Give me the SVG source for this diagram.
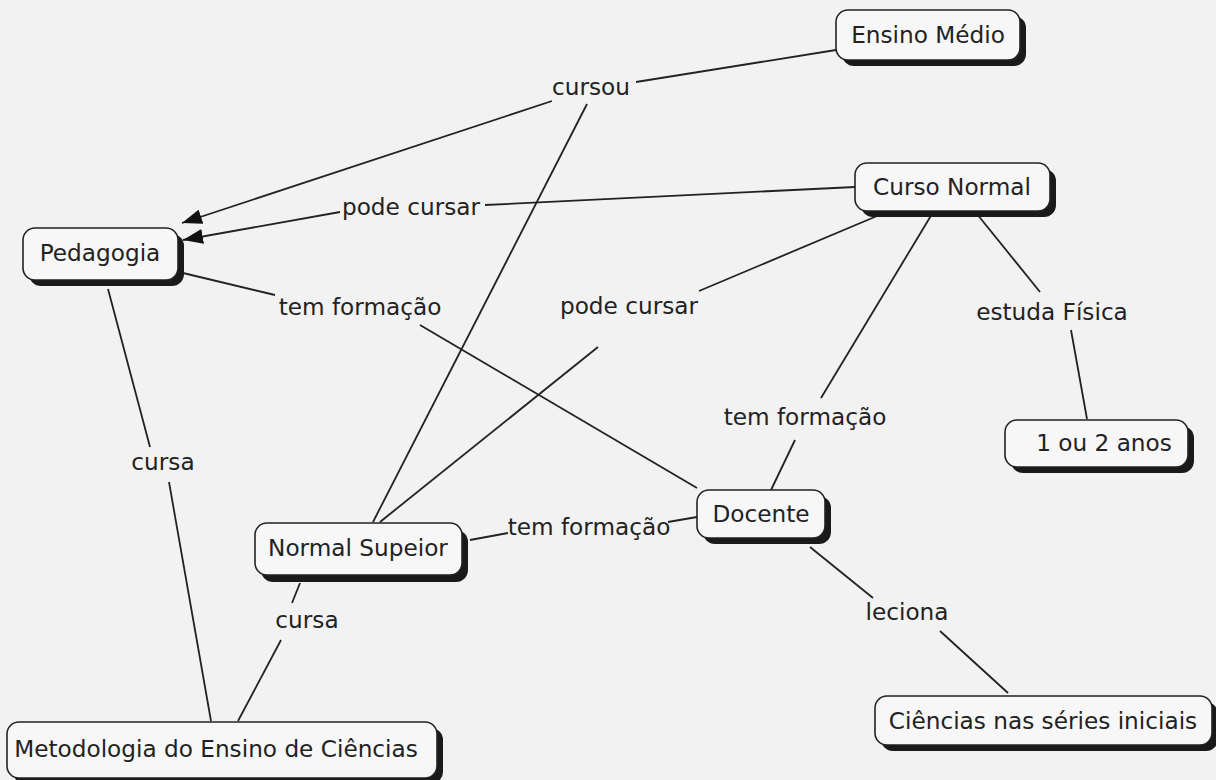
<svg xmlns="http://www.w3.org/2000/svg" width="1216" height="780" viewBox="0 0 1216 780">
<defs>
<style>
.sh{fill:#1a1a1a}
.bx{fill:#f7f7f7;stroke:#222;stroke-width:1.6}
text{font-family:"DejaVu Sans",Verdana,sans-serif;font-size:23.2px;fill:#222;text-anchor:middle}
.c line{stroke:#222;stroke-width:1.8}
</style>
<marker id="ah2" viewBox="0 0 20 15" refX="20" refY="7.5" markerWidth="20" markerHeight="15" orient="auto" markerUnits="userSpaceOnUse">
<path d="M0,0 L20,7.5 L0,15 Z" fill="#111"/>
</marker>
</defs>
<rect width="1216" height="780" fill="#f2f2f2"/>
<g class="c" id="connectors">
<line x1="836" y1="50" x2="636" y2="82"/>
<line x1="552" y1="101" x2="182" y2="223" marker-end="url(#ah2)"/>
<line x1="587" y1="104" x2="373" y2="522"/>
<line x1="855" y1="187" x2="485" y2="205"/>
<line x1="340" y1="212" x2="183" y2="240" marker-end="url(#ah2)"/>
<line x1="877" y1="216" x2="699" y2="291"/>
<line x1="598" y1="347" x2="380" y2="522"/>
<line x1="932" y1="214" x2="821" y2="398"/>
<line x1="795" y1="440" x2="771" y2="490"/>
<line x1="977" y1="214" x2="1040" y2="292"/>
<line x1="1071" y1="330" x2="1087" y2="419"/>
<line x1="183" y1="273" x2="275" y2="295"/>
<line x1="420" y1="325" x2="697" y2="488"/>
<line x1="108" y1="289" x2="150" y2="447"/>
<line x1="169" y1="482" x2="211" y2="721"/>
<line x1="470" y1="540" x2="508" y2="533"/>
<line x1="668" y1="522" x2="697" y2="517"/>
<line x1="300" y1="583" x2="292" y2="603"/>
<line x1="281" y1="640" x2="238" y2="721"/>
<line x1="810" y1="547" x2="873" y2="598"/>
<line x1="940" y1="631" x2="1008" y2="693"/>
</g>
<g id="labels">
<text x="591" y="95">cursou</text>
<text x="411" y="215">pode cursar</text>
<text x="360" y="315">tem formação</text>
<text x="629" y="314">pode cursar</text>
<text x="805" y="425">tem formação</text>
<text x="1052" y="320">estuda Física</text>
<text x="589" y="535">tem formação</text>
<text x="907" y="620">leciona</text>
<text x="163" y="470">cursa</text>
<text x="307" y="628">cursa</text>
</g>
<g id="n-ensino-medio">
<rect class="sh" x="842" y="16" width="184" height="50" rx="12"/>
<rect class="bx" x="836" y="10" width="184" height="50" rx="12"/>
<text x="928" y="43">Ensino Médio</text>
</g>
<g id="n-curso-normal">
<rect class="sh" x="861" y="169" width="195" height="48" rx="12"/>
<rect class="bx" x="855" y="163" width="195" height="48" rx="12"/>
<text x="952" y="195">Curso Normal</text>
</g>
<g id="n-pedagogia">
<rect class="sh" x="29" y="234" width="155" height="52" rx="12"/>
<rect class="bx" x="23" y="228" width="155" height="52" rx="12"/>
<text x="100" y="261">Pedagogia</text>
</g>
<g id="n-um-ou-dois-anos">
<rect class="sh" x="1011" y="426" width="183" height="47" rx="12"/>
<rect class="bx" x="1005" y="420" width="183" height="47" rx="12"/>
<text x="1104" y="451">1 ou 2 anos</text>
</g>
<g id="n-docente">
<rect class="sh" x="703" y="496" width="128" height="48" rx="12"/>
<rect class="bx" x="697" y="490" width="128" height="48" rx="12"/>
<text x="761" y="522">Docente</text>
</g>
<g id="n-normal-supeior">
<rect class="sh" x="261" y="530" width="207" height="52" rx="12"/>
<rect class="bx" x="255" y="523" width="207" height="52" rx="12"/>
<text x="358" y="556">Normal Supeior</text>
</g>
<g id="n-metodologia">
<rect class="sh" x="13" y="728" width="430" height="56" rx="12"/>
<rect class="bx" x="7" y="722" width="430" height="56" rx="12"/>
<text x="216" y="757">Metodologia do Ensino de Ciências</text>
</g>
<g id="n-ciencias">
<rect class="sh" x="881" y="702" width="337" height="49" rx="12"/>
<rect class="bx" x="875" y="696" width="337" height="49" rx="12"/>
<text x="1043" y="729">Ciências nas séries iniciais</text>
</g>
</svg>
